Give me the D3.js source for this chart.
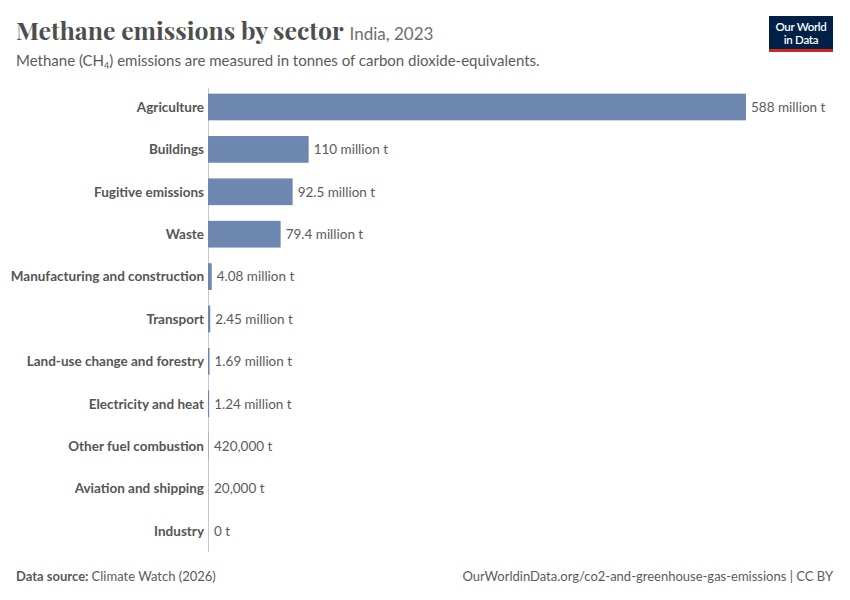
<!DOCTYPE html>
<html>
<head>
<meta charset="utf-8">
<script src="https://cdn.jsdelivr.net/npm/d3@7"></script>
<style>
  body { margin: 0; background: #fff; }
  text { font-family: Lato, "Noto Sans", sans-serif; }
</style>
</head>
<body>
<script>
// data
var sectors = ["Agriculture", "Buildings", "Fugitive emissions", "Waste",
  "Manufacturing and construction", "Transport", "Land-use change and forestry",
  "Electricity and heat", "Other fuel combustion", "Aviation and shipping", "Industry"];
var values = [588e6, 110e6, 92.5e6, 79.4e6, 4.08e6, 2.45e6, 1.69e6, 1.24e6, 420000, 20000, 0];
var valueLabels = ["588 million t", "110 million t", "92.5 million t", "79.4 million t",
  "4.08 million t", "2.45 million t", "1.69 million t", "1.24 million t",
  "420,000 t", "20,000 t", "0 t"];

var w = 850;
var h = 600;

var svg = d3.select("body")
    .append("svg")
    .attr("width", w)
    .attr("height", h);

// title
var title = svg.append("text")
    .attr("x", 16)
    .attr("y", 40)
    .attr("fill", "#4e4e4e");
title.append("tspan")
    .attr("font-family", "'Playfair Display', 'Liberation Serif', serif")
    .attr("font-size", "24.8px")
    .attr("font-weight", 700)
    .text("Methane emissions by sector");
title.append("tspan")
    .attr("font-family", "Lato, sans-serif")
    .attr("font-size", "17px")
    .attr("fill", "#6e6e6e")
    .attr("dx", 6)
    .text("India, 2023");

var sub = svg.append("text")
    .attr("x", 16)
    .attr("y", 66)
    .attr("font-size", "15px")
    .attr("fill", "#5b5b5b");
sub.append("tspan").text("Methane (CH");
sub.append("tspan").attr("font-size", "9px").attr("dy", 3).text("4");
sub.append("tspan").attr("dy", -3).text(") emissions are measured in tonnes of carbon dioxide-equivalents.");

// logo
var logo = svg.append("g").attr("transform", "translate(769,16)");
logo.append("rect").attr("width", 64).attr("height", 36).attr("fill", "#002147");
logo.append("rect").attr("y", 33).attr("width", 64).attr("height", 3).attr("fill", "#ce261e");
logo.append("text").attr("x", 32).attr("y", 15).attr("text-anchor", "middle")
    .attr("font-size", "11.5px").attr("font-weight", 600).attr("fill", "#fff").attr("letter-spacing", "-0.3").text("Our World");
logo.append("text").attr("x", 32).attr("y", 28).attr("text-anchor", "middle")
    .attr("font-size", "11.5px").attr("font-weight", 600).attr("fill", "#fff").attr("letter-spacing", "-0.3").text("in Data");

// scales
var xScale = d3.scaleLinear()
    .domain([0, d3.max(values)])
    .range([208, 746]);

var yScale = d3.scaleBand()
    .domain(sectors)
    .range([86, 552])
    .paddingInner(0.37)
    .paddingOuter(0.18);

// baseline
svg.append("line")
    .attr("x1", xScale(0) + 0.5)
    .attr("x2", xScale(0) + 0.5)
    .attr("y1", 88)
    .attr("y2", 552)
    .attr("stroke", "#c8c8c8")
    .attr("stroke-width", 1);

var rows = svg.selectAll(".row")
    .data(sectors)
    .enter()
    .append("g")
    .attr("class", "row");

rows.append("rect")
    .attr("x", xScale(0))
    .attr("y", d => yScale(d))
    .attr("width", (d, i) => Math.max(0, xScale(values[i]) - xScale(0)))
    .attr("height", yScale.bandwidth())
    .attr("fill", "#6d87b0");

rows.append("text")
    .attr("x", xScale(0) - 4)
    .attr("y", d => yScale(d) + yScale.bandwidth() / 2)
    .attr("dy", "0.35em")
    .attr("text-anchor", "end")
    .attr("font-size", "13.5px")
    .attr("font-weight", 700)
    .attr("fill", "#555")
    .text(d => d);

rows.append("text")
    .attr("x", (d, i) => Math.max(xScale(values[i]), xScale(0) + 1) + 5)
    .attr("y", d => yScale(d) + yScale.bandwidth() / 2)
    .attr("dy", "0.35em")
    .attr("font-size", "13.5px")
    .attr("fill", "#5b5b5b")
    .text((d, i) => valueLabels[i]);

// footer
var src = svg.append("text")
    .attr("x", 16)
    .attr("y", 581)
    .attr("font-size", "13px")
    .attr("fill", "#5b5b5b");
src.append("tspan").attr("font-weight", 700).text("Data source: ");
src.append("tspan").text("Climate Watch (2026)");

svg.append("text")
    .attr("x", 833)
    .attr("y", 581)
    .attr("text-anchor", "end")
    .attr("font-size", "13px")
    .attr("fill", "#5b5b5b")
    .text("OurWorldinData.org/co2-and-greenhouse-gas-emissions | CC BY");
</script>
</body>
</html>
